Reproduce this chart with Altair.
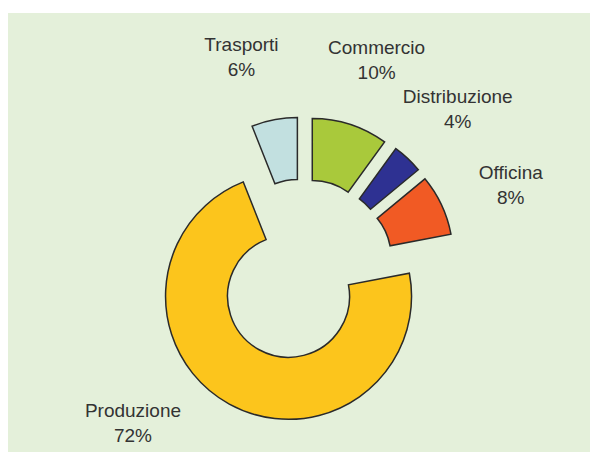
import altair as alt
import pandas as pd

# Data (clockwise from 12 o'clock)
categories = ["Commercio", "Distribuzione", "Officina", "Produzione", "Trasporti"]
values = [10, 4, 8, 72, 6]
colors = ["#a9c93b", "#2e3192", "#f15a24", "#fcc51c", "#c2e0e0"]
# label angular nudge (degrees) relative to the slice mid-angle
label_shift = [1, 0, 2, 20, -5]

# layout constants
W, H = 582, 439
CX, CY = 295, 257
R_IN, R_OUT = 61, 123
EXPLODE = 30
R_LABEL = 226

df = pd.DataFrame({
    "cat": categories,
    "value": values,
    "color": colors,
    "shift": label_shift,
    "i": list(range(len(categories))),
})

base = alt.Chart(df).transform_joinaggregate(
    total="sum(value)"
).transform_window(
    cum="sum(value)", sort=[alt.SortField("i")], frame=[None, 0]
).transform_calculate(
    t0="(datum.cum - datum.value) / datum.total * 2 * PI",
    t1="datum.cum / datum.total * 2 * PI",
).transform_calculate(
    mid="(datum.t0 + datum.t1) / 2",
).transform_calculate(
    px=f"{CX} + {EXPLODE} * sin(datum.mid)",
    py=f"{CY} - {EXPLODE} * cos(datum.mid)",
    la=f"datum.mid + datum.shift * PI / 180",
).transform_calculate(
    lx=f"{CX} + {R_LABEL} * sin(datum.la)",
    ly=f"{CY} - {R_LABEL} * cos(datum.la)",
    label="datum.cat + '\\n' + datum.value + '%'",
)

arcs = base.mark_arc(
    innerRadius=R_IN, outerRadius=R_OUT, stroke="#2a2a2a", strokeWidth=1.5
).encode(
    x=alt.X("px:Q", scale=None),
    y=alt.Y("py:Q", scale=None),
    theta=alt.Theta("t0:Q", scale=None, stack=None),
    theta2="t1:Q",
    color=alt.Color("color:N", scale=None),
)

labels = base.mark_text(
    lineBreak="\n", font="Liberation Sans", fontSize=19, color="#333333",
    align="center", baseline="middle", lineHeight=25, dy=-8,
).encode(
    x=alt.X("lx:Q", scale=None),
    y=alt.Y("ly:Q", scale=None),
    text="label:N",
)

chart = alt.layer(arcs, labels).properties(
    width=W, height=H,
    padding={"left": 0, "top": 5, "right": 0, "bottom": 0},
    background="white",
).configure_view(fill="#e4f0da", stroke=None)

chart.save("out.html", embed_options={"renderer": "svg", "actions": False})
